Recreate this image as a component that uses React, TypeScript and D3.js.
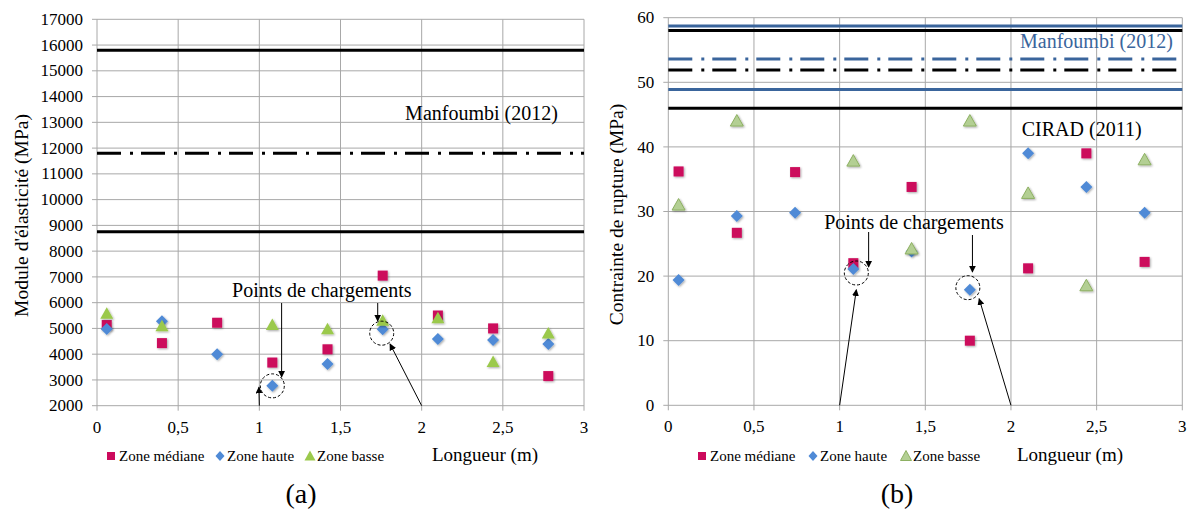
import React from "react";
import * as d3 from "d3";

// ---------- data ----------
const lengths = [0.06, 0.4, 0.74, 1.08, 1.42, 1.76, 2.1, 2.44, 2.78];
const moduleMediane = [5130, 4430, 5220, 3675, 4190, 7050, 5500, 5000, 3150];
const moduleHaute = [4980, 5280, 4000, 2770, 3620, 4970, 4590, 4550, 4400];
const moduleBasse: (number | null)[] = [5570, 5080, null, 5130, 4970, 5300, 5390, 3700, 4800];
const ruptureMediane = [36.2, 26.7, 36.1, 22.0, 33.8, 10.0, 21.2, 39.0, 22.2];
const ruptureHaute = [19.4, 29.3, 29.8, 21.1, 23.8, 17.9, 39.0, 33.8, 29.8];
const ruptureBasse: (number | null)[] = [31.0, 44.0, null, 37.8, 24.2, 44.0, 32.8, 18.5, 38.0];

const xTicks = [0, 0.5, 1, 1.5, 2, 2.5, 3];
const moduleTicks = d3.range(2000, 17001, 1000);
const ruptureTicks = [0, 10, 20, 30, 40, 50, 60];

// reference lines (literature values)
const moduleRefValues = [15800, 11800, 8750];
const moduleRefDashed = [false, true, false];
const moduleRefColors = ["#000", "#000", "#000"];
const ruptureRefValues = [58.7, 58.0, 53.6, 51.9, 48.9, 46.0];
const ruptureRefDashed = [false, false, true, true, false, false];
const ruptureRefColors = ["#3A659C", "#000", "#3A659C", "#000", "#3A659C", "#000"];

const loadPoints = [1, 2]; // loading positions (m)
const circledIdx = [3, 5]; // points at the loading positions

const seriesNames = ["Zone médiane", "Zone haute", "Zone basse"];

const FONT = "'Liberation Serif', 'Times New Roman', serif";
const RED = "#CC0A5C";
const BLUE = "#4F8AD6";

const fmt = (v: number) => String(v).replace(".", ",");

function Marker({ kind, x, y, light }: { kind: number; x: number; y: number; light?: boolean }) {
  if (kind === 0) return <rect x={x - 5} y={y - 5} width={10} height={10} fill={RED} filter="url(#sh)" />;
  if (kind === 1)
    return <path d={`M${x},${y - 6}L${x + 6},${y}L${x},${y + 6}L${x - 6},${y}Z`} fill={BLUE} filter="url(#sh)" />;
  return (
    <path
      d={`M${x},${y - 6.5}L${x + 6.5},${y + 5}L${x - 6.5},${y + 5}Z`}
      fill={light ? "#B3CF93" : "#9BC94C"}
      stroke={light ? "#8DB062" : "none"}
      strokeWidth={1}
      filter="url(#sh)"
    />
  );
}

type Ann = { cdx: number; cdy: number; adx: number; y0: number; y1: number; tdx: number; tdy: number };

function Panel(props: {
  x0: number; x1: number; yTop: number; yBot: number;
  yDomain: [number, number]; yTicks: number[];
  series: (number | null)[][];
  refValues: number[]; refDashed: boolean[]; refColors: string[];
  yLabel: string; yLabelX: number;
  notes: { text: string; x: number; y: number; color: string }[];
  noteText: { x: number; y: number };
  ann: Ann[];
  lightTri?: boolean;
  legendX: number[]; letter: string; letterX: number; xLabelX: number;
}) {
  const xs = d3.scaleLinear().domain([0, 3]).range([props.x0, props.x1]);
  const ys = d3.scaleLinear().domain(props.yDomain).range([props.yBot, props.yTop]);
  const grid = "#A8A8A8";
  const haute = props.series[1];
  return (
    <g fontFamily={FONT}>
      {/* grid */}
      {props.yTicks.map((t) => (
        <line key={"h" + t} x1={props.x0 - 5} x2={props.x1} y1={ys(t)} y2={ys(t)} stroke={grid} strokeWidth={1} />
      ))}
      {xTicks.map((t) => (
        <line key={"v" + t} x1={xs(t)} x2={xs(t)} y1={props.yTop} y2={props.yBot + 5} stroke={grid} strokeWidth={1} />
      ))}
      {/* tick labels */}
      {props.yTicks.map((t) => (
        <text key={"yl" + t} x={props.x0 - 14} y={ys(t)} dy="0.33em" textAnchor="end" fontSize={17}>
          {t}
        </text>
      ))}
      {xTicks.map((t) => (
        <text key={"xl" + t} x={xs(t)} y={props.yBot + 27} textAnchor="middle" fontSize={17}>
          {fmt(t)}
        </text>
      ))}
      {/* reference lines */}
      {props.refValues.map((v, i) => (
        <line
          key={"r" + i}
          x1={props.x0}
          x2={props.x1}
          y1={ys(v)}
          y2={ys(v)}
          stroke={props.refColors[i]}
          strokeWidth={3}
          strokeDasharray={props.refDashed[i] ? "24 9 3 8" : undefined}
        />
      ))}
      {props.notes.map((n, i) => (
        <text key={"n" + i} x={xs(n.x)} y={ys(n.y)} fontSize={20} fill={n.color}>
          {n.text}
        </text>
      ))}
      {/* markers */}
      {props.series.map((s, k) =>
        s.map((v, i) => (v == null ? null : <Marker key={k + "-" + i} kind={k} x={xs(lengths[i])} y={ys(v)} light={props.lightTri} />))
      )}
      {/* annotations */}
      <text x={xs(props.noteText.x)} y={ys(props.noteText.y)} fontSize={20} textAnchor="middle">
        Points de chargements
      </text>
      {circledIdx.map((idx, j) => {
        const a = props.ann[j];
        const cx = xs(lengths[idx]) + a.cdx;
        const cy = ys(haute[idx] as number) + a.cdy;
        const lx = xs(loadPoints[j]);
        const ly = props.yBot;
        return (
          <g key={"c" + j}>
            <circle cx={cx} cy={cy} r={12} fill="none" stroke="#000" strokeWidth={1} strokeDasharray="3 2" />
            <line x1={cx + a.adx} x2={cx + a.adx} y1={a.y0} y2={a.y1} stroke="#000" strokeWidth={1} markerEnd="url(#arr)" />
            <line x1={lx} y1={ly} x2={cx + a.tdx} y2={cy + a.tdy} stroke="#000" strokeWidth={1} markerEnd="url(#arr)" />
          </g>
        );
      })}
      {/* axis titles */}
      <text
        transform={`translate(${props.yLabelX},${(props.yTop + props.yBot) / 2 + 3}) rotate(-90)`}
        textAnchor="middle"
        fontSize={19.5}
      >
        {props.yLabel}
      </text>
      <text x={props.xLabelX} y={461} fontSize={19}>
        Longueur (m)
      </text>
      {/* legend */}
      {seriesNames.map((n, k) => (
        <g key={"lg" + k}>
          {k === 0 && <rect x={props.legendX[k] - 12} y={452} width={8} height={8} fill={RED} />}
          {k === 1 && (
            <path
              d={`M${props.legendX[k] - 7},${451}L${props.legendX[k] - 2.5},${456}L${props.legendX[k] - 7},${461}L${props.legendX[k] - 11.5},${456}Z`}
              fill={BLUE}
            />
          )}
          {k === 2 && (
            <path
              d={`M${props.legendX[k] - 7},${450.5}L${props.legendX[k] - 1.5},${460.5}L${props.legendX[k] - 12.5},${460.5}Z`}
              fill={props.lightTri ? "#B3CF93" : "#9BC94C"}
              stroke={props.lightTri ? "#8DB062" : "none"}
            />
          )}
          <text x={props.legendX[k]} y={461} fontSize={15}>
            {n}
          </text>
        </g>
      ))}
      <text x={props.letterX} y={503} fontSize={28} textAnchor="middle">
        {props.letter}
      </text>
    </g>
  );
}

export default function App() {
  return (
    <svg width={1188} height={509} style={{ position: "absolute", left: 0, top: 0, background: "#fff" }}>
      <defs>
        <filter id="sh" x="-50%" y="-50%" width="200%" height="200%">
          <feDropShadow dx={1} dy={1} stdDeviation={0.8} floodColor="#000" floodOpacity={0.35} />
        </filter>
        <marker id="arr" viewBox="0 0 10 10" refX={9} refY={5} markerWidth={7} markerHeight={7} orient="auto" markerUnits="userSpaceOnUse">
          <path d="M0,0L10,5L0,10Z" fill="#000" />
        </marker>
      </defs>
      <rect width={1188} height={509} fill="#fff" />
      <Panel
        x0={97}
        x1={584}
        yTop={19.3}
        yBot={405.7}
        yDomain={[2000, 17000]}
        yTicks={moduleTicks}
        series={[moduleMediane, moduleHaute, moduleBasse]}
        refValues={moduleRefValues}
        refDashed={moduleRefDashed}
        refColors={moduleRefColors}
        yLabel="Module d'élasticité (MPa)"
        yLabelX={28}
        notes={[{ text: "Manfoumbi (2012)", x: 1.898, y: 13110, color: "#000" }]}
        noteText={{ x: 1.385, y: 6230 }}
        ann={[
          { cdx: 0, cdy: 0, adx: 9.3, y0: 303, y1: 377, tdx: -13.4, tdy: 1.3 },
          { cdx: -1, cdy: 4, adx: -4, y0: 303, y1: 321, tdx: 8.3, tdy: 10.7 },
        ]}
        legendX={[119, 227, 317]}
        letter="(a)"
        letterX={301}
        xLabelX={432}
      />
      <Panel
        x0={668.3}
        x1={1182.3}
        yTop={17.7}
        yBot={405.3}
        yDomain={[0, 60]}
        yTicks={ruptureTicks}
        series={[ruptureMediane, ruptureHaute, ruptureBasse]}
        refValues={ruptureRefValues}
        refDashed={ruptureRefDashed}
        refColors={ruptureRefColors}
        yLabel="Contrainte de rupture (MPa)"
        yLabelX={623}
        notes={[
          { text: "Manfoumbi (2012)", x: 2.053, y: 55.36, color: "#3A659C" },
          { text: "CIRAD (2011)", x: 2.063, y: 41.7, color: "#000" },
        ]}
        noteText={{ x: 1.434, y: 27.3 }}
        ann={[
          { cdx: 3, cdy: 4, adx: 12.3, y0: 232, y1: 267, tdx: 0, tdy: 16.7 },
          { cdx: -2, cdy: -2, adx: 4.6, y0: 235, y1: 272, tdx: 11.3, tdy: 11 },
        ]}
        lightTri
        legendX={[710, 820, 913]}
        letter="(b)"
        letterX={897}
        xLabelX={1017}
      />
    </svg>
  );
}
